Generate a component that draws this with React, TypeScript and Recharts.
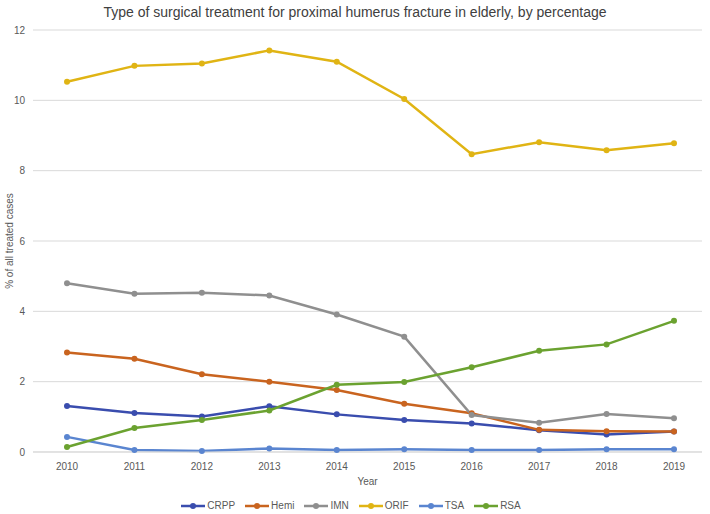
import { CartesianGrid, Label, Legend, Line, LineChart, XAxis, YAxis } from "recharts"

const years = ["2010", "2011", "2012", "2013", "2014", "2015", "2016", "2017", "2018", "2019"]
const crpp = [1.31, 1.11, 1.01, 1.3, 1.07, 0.91, 0.81, 0.62, 0.5, 0.58]
const hemi = [2.83, 2.65, 2.21, 2.0, 1.76, 1.37, 1.1, 0.63, 0.59, 0.58]
const imn = [4.8, 4.5, 4.53, 4.45, 3.91, 3.28, 1.05, 0.83, 1.08, 0.96]
const orif = [10.53, 10.98, 11.05, 11.42, 11.1, 10.04, 8.47, 8.81, 8.58, 8.78]
const tsa = [0.43, 0.06, 0.03, 0.1, 0.06, 0.08, 0.06, 0.06, 0.08, 0.08]
const rsa = [0.14, 0.68, 0.91, 1.18, 1.91, 1.99, 2.41, 2.88, 3.06, 3.73]
const yTicks = [0, 2, 4, 6, 8, 10, 12]

const SERIES = [
  { key: "CRPP", values: crpp, color: "#3A4DAE" },
  { key: "Hemi", values: hemi, color: "#C9641F" },
  { key: "IMN", values: imn, color: "#8F8F8F" },
  { key: "ORIF", values: orif, color: "#E0B414" },
  { key: "TSA", values: tsa, color: "#5A85D0" },
  { key: "RSA", values: rsa, color: "#6BA230" },
]

const data = years.map((year, i) => {
  const row: Record<string, string | number> = { year }
  SERIES.forEach((s) => {
    row[s.key] = s.values[i]
  })
  return row
})

const FONT = "'Liberation Sans', Arial, sans-serif"

const renderLegend = () => (
  <div style={{ display: "flex", justifyContent: "center", gap: 10, fontSize: 10, color: "#595959", fontFamily: FONT, paddingTop: 10 }}>
    {SERIES.map((s) => (
      <div key={s.key} style={{ display: "flex", alignItems: "center", gap: 2 }}>
        <svg width={24} height={8}>
          <line x1={0} y1={4} x2={24} y2={4} stroke={s.color} strokeWidth={2.5} />
          <circle cx={12} cy={4} r={3} fill={s.color} />
        </svg>
        <span>{s.key}</span>
      </div>
    ))}
  </div>
)

export default function App() {
  return (
    <div style={{ position: "absolute", left: 0, top: 0, width: 710, height: 514, background: "#fff", fontFamily: FONT }}>
      <div style={{ position: "absolute", top: 4, width: 710, textAlign: "center", fontSize: 14, color: "#404040" }}>
        Type of surgical treatment for proximal humerus fracture in elderly, by percentage
      </div>
      <LineChart width={710} height={514} data={data} margin={{ top: 30, right: 8, bottom: 4, left: 0 }}>
        <CartesianGrid vertical={false} stroke="#D9D9D9" />
        <XAxis
          dataKey="year"
          padding={{ left: 34, right: 28 }}
          tick={{ fill: "#595959", fontSize: 10, dy: 3 }}
          axisLine={{ stroke: "#D9D9D9" }}
          tickLine={false}
          height={38}
        >
          <Label value="Year" position="insideBottom" offset={5} style={{ fill: "#595959", fontSize: 10 }} />
        </XAxis>
        <YAxis
          domain={[0, 12]}
          ticks={yTicks}
          width={33}
          tick={{ fill: "#595959", fontSize: 10 }}
          axisLine={false}
          tickLine={false}
        >
          <Label value="% of all treated cases" angle={-90} position="insideLeft" offset={9} style={{ fill: "#595959", fontSize: 10, textAnchor: "middle" }} />
        </YAxis>
        <Legend verticalAlign="bottom" height={20} content={renderLegend} />
        {SERIES.map((s) => (
          <Line
            key={s.key}
            dataKey={s.key}
            stroke={s.color}
            strokeWidth={2.5}
            dot={{ r: 3, fill: s.color, stroke: s.color, strokeWidth: 0 }}
            isAnimationActive={false}
          />
        ))}
      </LineChart>
    </div>
  )
}
